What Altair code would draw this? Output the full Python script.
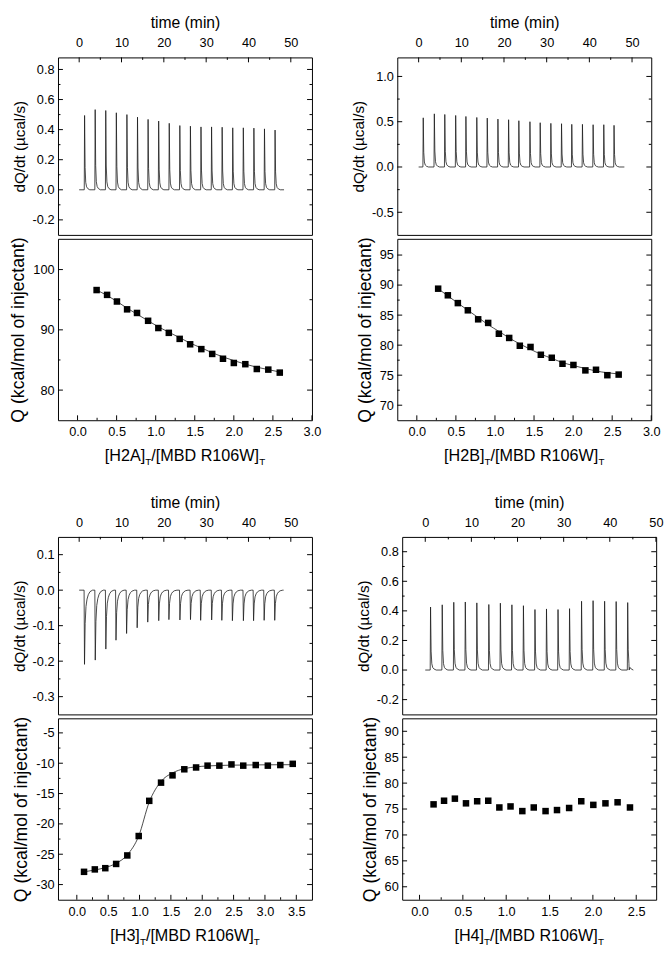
import altair as alt
import pandas as pd

FONT = "Liberation Sans"
W = 259
HT = 181
HB = 185
MAJ = 5
MIN = 2.5

# ---------------- H2A ----------------
h2a_inj_time = [1.2, 3.7, 6.2, 8.7, 11.2, 13.7, 16.2, 18.7, 21.2, 23.7, 26.2, 28.7, 31.2, 33.7, 36.2, 38.7, 41.2, 43.7, 46.2]
h2a_inj_peak = [0.494, 0.533, 0.527, 0.512, 0.500, 0.483, 0.468, 0.457, 0.442, 0.427, 0.423, 0.418, 0.418, 0.416, 0.412, 0.412, 0.410, 0.405, 0.397]
h2a_run_end = 48.4
h2a_ratio = [0.244, 0.378, 0.504, 0.634, 0.761, 0.903, 1.034, 1.168, 1.307, 1.441, 1.584, 1.723, 1.861, 2.000, 2.147, 2.294, 2.441, 2.588]
h2a_q = [96.6, 95.8, 94.7, 93.4, 92.8, 91.5, 90.3, 89.5, 88.5, 87.6, 86.8, 86.0, 85.2, 84.5, 84.3, 83.5, 83.4, 82.9]
h2a_fit = [96.6, 95.7, 94.7, 93.6, 92.6, 91.5, 90.5, 89.6, 88.7, 87.8, 87.0, 86.2, 85.5, 84.9, 84.3, 83.8, 83.4, 83.0]

# ---------------- H2B ----------------
h2b_inj_time = [1.0, 3.6, 6.05, 8.6, 11.0, 13.55, 16.0, 18.5, 21.0, 23.4, 26.0, 28.4, 30.9, 33.4, 35.8, 38.3, 40.8, 43.3, 45.7]
h2b_inj_peak = [0.543, 0.587, 0.580, 0.569, 0.558, 0.547, 0.540, 0.529, 0.522, 0.511, 0.500, 0.489, 0.482, 0.478, 0.471, 0.471, 0.467, 0.467, 0.460]
h2b_run_end = 48.2
h2b_ratio = [0.273, 0.397, 0.525, 0.653, 0.785, 0.913, 1.050, 1.182, 1.318, 1.455, 1.587, 1.727, 1.864, 2.004, 2.157, 2.293, 2.438, 2.583]
h2b_q = [89.4, 88.3, 87.0, 85.8, 84.3, 83.7, 81.9, 81.2, 79.9, 79.7, 78.4, 77.9, 76.9, 76.7, 75.8, 75.9, 75.0, 75.1]
h2b_fit = [89.4, 88.2, 87.0, 85.8, 84.6, 83.4, 82.3, 81.2, 80.2, 79.3, 78.5, 77.8, 77.1, 76.6, 76.1, 75.7, 75.4, 75.2]

# ---------------- H3 ----------------
h3_inj_time = [1.16, 3.7, 6.2, 8.6, 11.1, 13.6, 16.1, 18.7, 21.1, 23.7, 26.2, 28.6, 31.2, 33.6, 36.1, 38.7, 41.1, 43.6, 46.1]
h3_inj_peak = [-0.209, -0.197, -0.166, -0.141, -0.122, -0.106, -0.090, -0.086, -0.083, -0.084, -0.083, -0.085, -0.084, -0.085, -0.086, -0.086, -0.086, -0.085, -0.085]
h3_run_end = 48.3
h3_ratio = [0.115, 0.287, 0.454, 0.627, 0.805, 0.987, 1.155, 1.343, 1.526, 1.714, 1.902, 2.085, 2.273, 2.466, 2.654, 2.853, 3.046, 3.245, 3.443]
h3_q = [-27.9, -27.5, -27.3, -26.6, -25.2, -22.0, -16.2, -13.2, -12.0, -11.0, -10.7, -10.4, -10.4, -10.2, -10.4, -10.3, -10.4, -10.3, -10.1]
h3_fit = [-27.9, -27.6, -27.2, -26.5, -25.1, -22.0, -16.4, -13.0, -11.6, -10.9, -10.6, -10.45, -10.37, -10.32, -10.30, -10.28, -10.26, -10.25, -10.24]

# ---------------- H4 ----------------
h4_inj_time = [1.07, 3.6, 6.1, 8.6, 11.1, 13.7, 16.2, 18.7, 21.2, 23.7, 26.2, 28.7, 31.2, 33.8, 36.3, 38.8, 41.3, 43.8]
h4_inj_peak = [0.426, 0.441, 0.458, 0.460, 0.454, 0.443, 0.452, 0.441, 0.435, 0.409, 0.413, 0.409, 0.415, 0.465, 0.469, 0.465, 0.463, 0.456]
h4_run_end = 44.2
h4_ratio = [0.162, 0.283, 0.408, 0.536, 0.665, 0.793, 0.921, 1.050, 1.186, 1.318, 1.454, 1.586, 1.726, 1.866, 2.005, 2.145, 2.285, 2.428]
h4_q = [75.9, 76.6, 77.0, 76.1, 76.5, 76.6, 75.3, 75.5, 74.6, 75.3, 74.6, 74.8, 75.2, 76.5, 75.8, 76.1, 76.3, 75.3]

# injection peak shape (time after injection in min, fraction of peak height)
endo_dt = [0.0, 0.08, 0.2, 0.35, 0.55, 0.85, 1.3]
endo_frac = [0.0, 1.0, 0.3, 0.1, 0.04, 0.015, 0.0]
exo_dt = [0.0, 0.1, 0.25, 0.45, 0.7, 1.0, 1.4, 2.0]
exo_frac = [0.0, 1.0, 0.45, 0.22, 0.12, 0.06, 0.02, 0.0]

# axis ticks
time_major = [0, 10, 20, 30, 40, 50]
time_minor = [5, 15, 25, 35, 45]

# Arial / Liberation Sans advance widths (per 1000 em) for title layout
ADV = {'[': 278, ']': 278, 'H': 722, '2': 556, 'A': 667, 'B': 667, '3': 556, '4': 556,
       '/': 278, 'M': 833, 'D': 722, 'R': 722, '1': 556, '0': 556, '6': 556, 'W': 944,
       ' ': 278, 'T': 611}


def text_width(s, size):
    return sum(ADV.get(c, 556) for c in s) * size / 1000.0


def trace_df(times, peaks, end, dts, fracs):
    rows = [(0.0, 0.0)]
    for t, p in zip(times, peaks):
        for dt, f in zip(dts, fracs):
            rows.append((t + dt, p * f))
    rows.append((end, 0.0))
    return pd.DataFrame(rows, columns=["v", "w"])


def num_expr(fmt):
    return "replace(format(datum.value, '%s'), '\u2212', '-')" % fmt


def edge_ticks(values, scale, axis, edge, length, h):
    df = pd.DataFrame({"v": values, "w": values})
    base = alt.Chart(df).mark_rule(color="black", strokeWidth=1)
    if edge in ("left", "right"):
        x1, x2 = (0, length) if edge == "left" else (W - length, W)
        return base.encode(y=alt.Y("w:Q", scale=scale, axis=axis), x=alt.value(x1), x2=alt.value(x2))
    y1, y2 = (0, length) if edge == "top" else (h - length, h)
    return base.encode(x=alt.X("v:Q", scale=scale, axis=axis), y=alt.value(y1), y2=alt.value(y2))


def x_title(species):
    parts = [("[" + species + "]", 16.5, 0), ("T", 10, 4), ("/[MBD R106W]", 16.5, 0), ("T", 10, 4)]
    total = sum(text_width(s, sz) for s, sz, _ in parts)
    x0 = W / 2 - total / 2
    layers = []
    for s, sz, dy in parts:
        layers.append(
            alt.Chart(pd.DataFrame({"s": [s]})).mark_text(
                align="left", baseline="alphabetic", fontSize=sz, font=FONT, color="black"
            ).encode(text="s:N", x=alt.value(x0), y=alt.value(HB + 42 + dy))
        )
        x0 += text_width(s, sz)
    return layers


def panel(species, times, peaks, end, dts, fracs, ratio, q, fit,
          time_dom, dq_dom, dq_major, dq_minor, r_dom, r_major, r_minor,
          q_dom, q_major, q_minor):
    ts = alt.Scale(domain=time_dom, nice=False, zero=False)
    ds = alt.Scale(domain=dq_dom, nice=False, zero=False)
    rs = alt.Scale(domain=r_dom, nice=False, zero=False)
    qs = alt.Scale(domain=q_dom, nice=False, zero=False)

    t_axis = alt.Axis(
        orient="top", title="time (min)", values=time_major, ticks=False, tickSize=0,
        domain=False, grid=False, labelPadding=8, titlePadding=6, titleFontSize=16,
        labelFlush=False, labelOverlap=False, labelBound=False, format="d")
    d_axis = alt.Axis(
        orient="left", title="dQ/dt (\u00b5cal/s)", values=dq_major, ticks=False, tickSize=0, domain=False,
        grid=False, labelPadding=4, titlePadding=5, titleFontSize=15.5,
        labelExpr=num_expr(".1f"), labelOverlap=False, labelFlush=False)
    r_axis = alt.Axis(
        orient="bottom", title=None, values=r_major, ticks=False, tickSize=0, domain=False, grid=False,
        labelPadding=6, labelExpr=num_expr(".1f"), labelFlush=False, labelOverlap=False)
    q_axis = alt.Axis(
        orient="left", title="Q (kcal/mol of injectant)", values=q_major, ticks=False, tickSize=0,
        domain=False, grid=False, labelPadding=4, titlePadding=5, titleFontSize=18,
        labelExpr=num_expr("d"), labelFlush=False, labelOverlap=False)

    trace = trace_df(times, peaks, end, dts, fracs)
    line = alt.Chart(trace).mark_line(color="#1a1a1a", strokeWidth=0.8).encode(
        x=alt.X("v:Q", scale=ts, axis=t_axis),
        y=alt.Y("w:Q", scale=ds, axis=d_axis),
    )
    top = alt.layer(
        line,
        edge_ticks(dq_major, ds, d_axis, "left", MAJ, HT),
        edge_ticks(dq_minor, ds, d_axis, "left", MIN, HT),
        edge_ticks(dq_major, ds, d_axis, "right", MAJ, HT),
        edge_ticks(dq_minor, ds, d_axis, "right", MIN, HT),
        edge_ticks(time_major, ts, t_axis, "top", MAJ, HT),
        edge_ticks(time_minor, ts, t_axis, "top", MIN, HT),
    ).properties(width=W, height=HT)

    pts_df = pd.DataFrame({"v": ratio, "w": q})
    pts = alt.Chart(pts_df).mark_point(shape="square", filled=True, size=44, color="black", opacity=1).encode(
        x=alt.X("v:Q", scale=rs, axis=r_axis),
        y=alt.Y("w:Q", scale=qs, axis=q_axis),
    )
    layers = []
    if fit is not None:
        fit_df = pd.DataFrame({"v": ratio, "w": fit})
        layers.append(alt.Chart(fit_df).mark_line(color="#1a1a1a", strokeWidth=0.8, interpolate="monotone").encode(
            x=alt.X("v:Q", scale=rs, axis=r_axis), y=alt.Y("w:Q", scale=qs, axis=q_axis)))
    layers.append(pts)
    layers += [
        edge_ticks(q_major, qs, q_axis, "left", MAJ, HB),
        edge_ticks(q_minor, qs, q_axis, "left", MIN, HB),
        edge_ticks(q_major, qs, q_axis, "right", MAJ, HB),
        edge_ticks(q_minor, qs, q_axis, "right", MIN, HB),
        edge_ticks(r_major, rs, r_axis, "bottom", MAJ, HB),
        edge_ticks(r_minor, rs, r_axis, "bottom", MIN, HB),
    ]
    layers += x_title(species)
    bottom = alt.layer(*layers).properties(width=W, height=HB)
    return alt.vconcat(top, bottom, spacing=0)


p1 = panel("H2A", h2a_inj_time, h2a_inj_peak, h2a_run_end, endo_dt, endo_frac, h2a_ratio, h2a_q, h2a_fit,
           [-5, 55], [-0.3, 0.88], [-0.2, 0.0, 0.2, 0.4, 0.6, 0.8], [-0.1, 0.1, 0.3, 0.5, 0.7],
           [-0.25, 3.0], [0.0, 0.5, 1.0, 1.5, 2.0, 2.5, 3.0], [0.25, 0.75, 1.25, 1.75, 2.25, 2.75],
           [75, 105.1], [80, 90, 100], [85, 95])
p2 = panel("H2B", h2b_inj_time, h2b_inj_peak, h2b_run_end, endo_dt, endo_frac, h2b_ratio, h2b_q, h2b_fit,
           [-5, 54.5], [-0.75, 1.21], [-0.5, 0.0, 0.5, 1.0], [-0.25, 0.25, 0.75],
           [-0.25, 3.0], [0.0, 0.5, 1.0, 1.5, 2.0, 2.5, 3.0], [0.25, 0.75, 1.25, 1.75, 2.25, 2.75],
           [67.5, 97.7], [70, 75, 80, 85, 90, 95], [72.5, 77.5, 82.5, 87.5, 92.5])
p3 = panel("H3", h3_inj_time, h3_inj_peak, h3_run_end, exo_dt, exo_frac, h3_ratio, h3_q, h3_fit,
           [-5, 55], [-0.35, 0.15], [-0.3, -0.2, -0.1, 0.0, 0.1], [-0.25, -0.15, -0.05, 0.05],
           [-0.3, 3.75], [0.0, 0.5, 1.0, 1.5, 2.0, 2.5, 3.0, 3.5], [0.25, 0.75, 1.25, 1.75, 2.25, 2.75, 3.25],
           [-32.5, -2.6], [-30, -25, -20, -15, -10, -5], [-27.5, -22.5, -17.5, -12.5, -7.5])
p4 = panel("H4", h4_inj_time, h4_inj_peak, h4_run_end, endo_dt, endo_frac, h4_ratio, h4_q, None,
           [-5, 50.05], [-0.3, 0.9], [-0.2, 0.0, 0.2, 0.4, 0.6, 0.8], [-0.1, 0.1, 0.3, 0.5, 0.7],
           [-0.2, 2.73], [0.0, 0.5, 1.0, 1.5, 2.0, 2.5], [0.25, 0.75, 1.25, 1.75, 2.25],
           [57.5, 92.5], [60, 65, 70, 75, 80, 85, 90], [62.5, 67.5, 72.5, 77.5, 82.5, 87.5])

row1 = alt.hconcat(p1, p2, spacing=30)
row2 = alt.hconcat(p3, p4, spacing=44)
chart = alt.vconcat(row1, row2, spacing=26).properties(
    padding={"left": 1, "top": -3, "right": 0, "bottom": 0}
).configure(font=FONT).configure_axis(
    labelFont=FONT, titleFont=FONT, labelColor="black", titleColor="black",
    titleFontWeight="normal", labelFontSize=13
).configure_view(stroke="black", strokeWidth=1)

chart.save("out.html", embed_options={"renderer": "svg", "actions": False})
